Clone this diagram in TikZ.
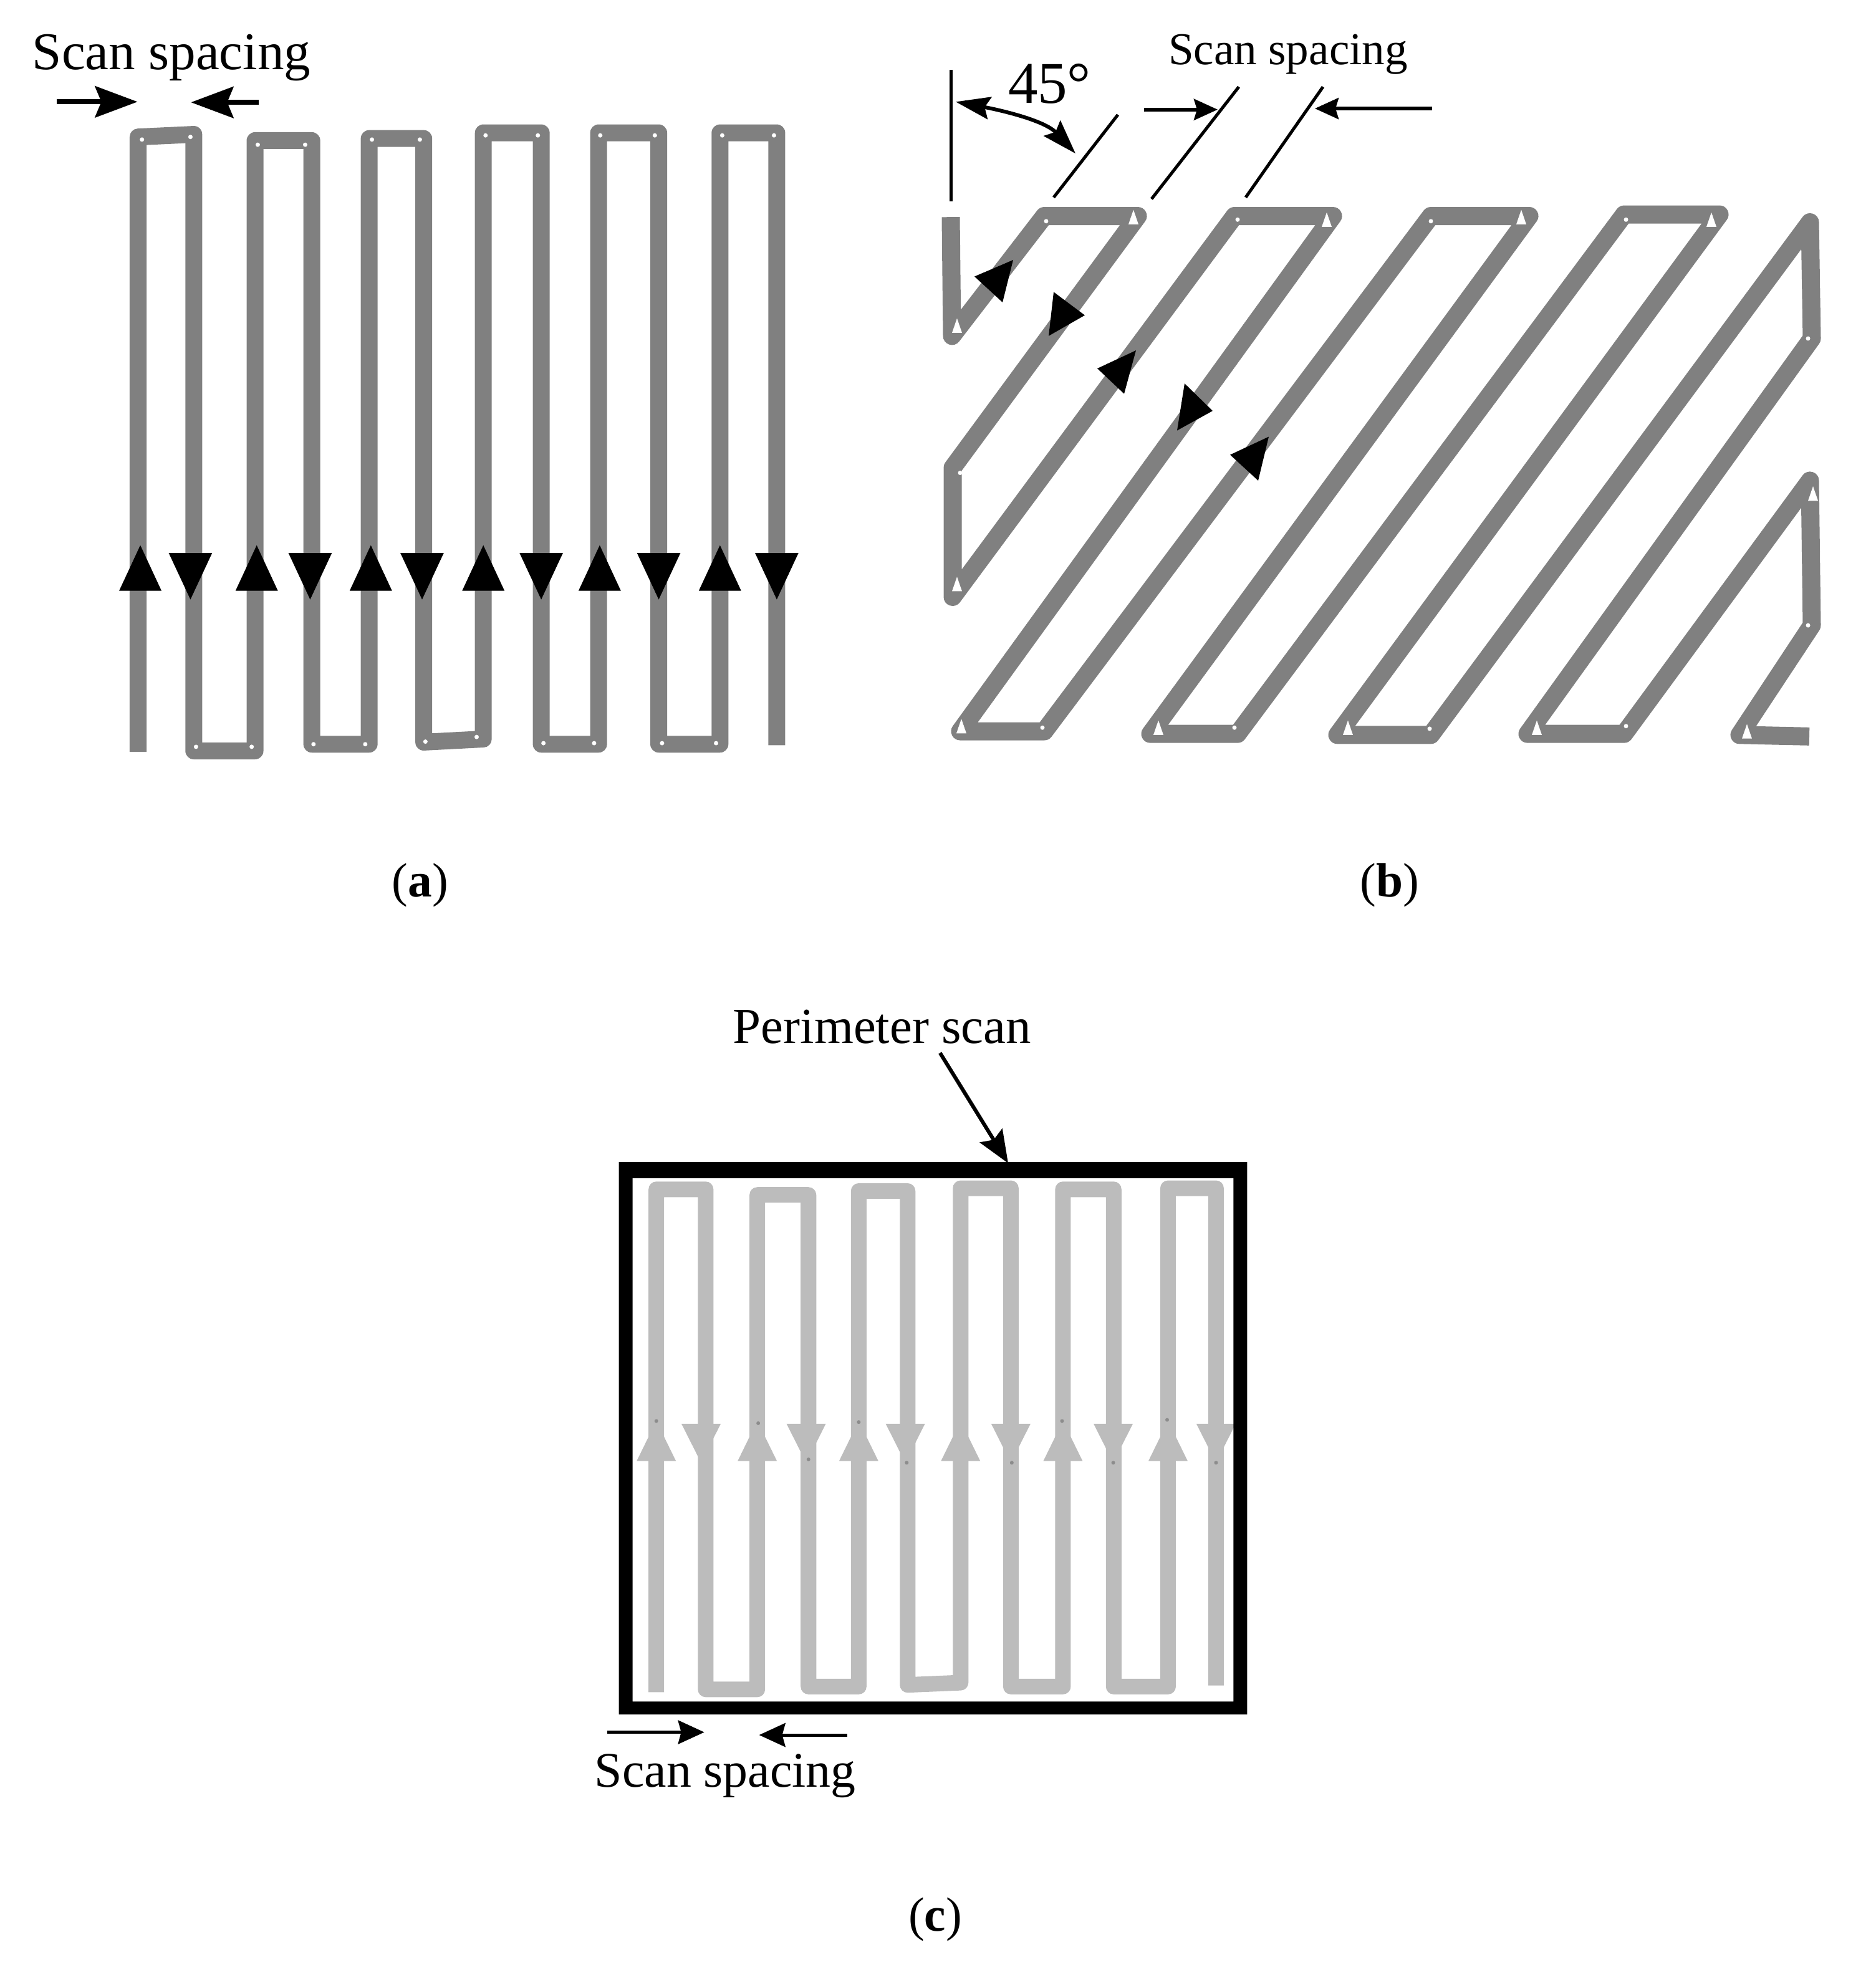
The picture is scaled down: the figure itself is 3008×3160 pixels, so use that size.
\documentclass[tikz,border=0pt]{standalone}
\usepackage{fontspec}
\setmainfont{Liberation Serif}
\usetikzlibrary{arrows.meta}
\definecolor{scanA}{HTML}{808080}
\definecolor{scanC}{HTML}{BCBCBC}
\definecolor{dotC}{HTML}{8C8C8C}
\newcommand{\lbl}[1]{\fontsize{#1}{#1}\selectfont}
\tikzset{
  track/.style={draw=scanA,line width=0.27cm,line join=round},
  trackB/.style={draw=scanA,line width=0.29cm,line join=round},
  trackC/.style={draw=scanC,line width=0.25cm,line join=round},
  tick/.style={draw=black,line width=0.05cm},
  dimA/.style={draw=black,line width=0.08cm,-{Stealth[length=0.68cm,width=0.5cm,inset=0.1cm]}},
  dimB/.style={draw=black,line width=0.055cm,-{Stealth[length=0.38cm,width=0.34cm,inset=0.05cm]}},
  dimC/.style={draw=black,line width=0.05cm,-{Stealth[length=0.42cm,width=0.38cm,inset=0.05cm]}},
  angleArc/.style={draw=black,line width=0.06cm,{Stealth[length=0.55cm,width=0.36cm,inset=0.08cm]}-{Stealth[length=0.55cm,width=0.36cm,inset=0.08cm]}},
  pointer/.style={draw=black,line width=0.06cm,-{Stealth[length=0.52cm,width=0.42cm,inset=0.08cm]}},
  txt/.style={anchor=base west,inner sep=0pt,outer sep=0pt,text=black},
  captxt/.style={anchor=center,inner sep=0pt,outer sep=0pt,text=black},
}
\begin{document}
\begin{tikzpicture}[x=0.01cm,y=-0.01cm]
\useasboundingbox (0,0) rectangle (3008,3160);

% ---------- panel (a)
\begin{scope}[x=0.00893cm,y=-0.00829cm]
\draw[track] (248,1455)--(248,265)--(348,260)--(348,1453)--(458,1453)--(458,272)--(560,272)--(560,1440)--(663,1440)--(663,268)--(761,268)--(761,1436)--(868,1430)--(868,257)--(972,257)--(972,1440)--(1075,1440)--(1075,257)--(1183,257)--(1183,1440)--(1293,1440)--(1293,257)--(1395,257)--(1395,1442);
\foreach \px/\py in {255/270,342/265,463/280,548/280,668/270,754/270,872/262,966/262,1078/262,1176/262,1297/262,1390/262,352/1445,452/1445,563/1440,656/1440,764/1435,856/1426,976/1438,1067/1438,1189/1438,1286/1438}
  \fill[white] (\px,\py) circle (0.035cm);
\foreach \tx in {252,461,666,868,1077,1293}
  \fill[black] ({\tx-38},1143)--(\tx,1055)--({\tx+38},1143)--cycle;
\foreach \tx in {342,557,758,972,1183,1395}
  \fill[black] ({\tx-39},1070)--({\tx+39},1070)--(\tx,1160)--cycle;
\coordinate (a1) at (102,197); \coordinate (a2) at (247,197);
\coordinate (a3) at (465,198); \coordinate (a4) at (343,198);
\draw[dimA] (a1)--(a2);
\draw[dimA] (a3)--(a4);
\node[txt] (labA) at (58,135) {\lbl{24.2}Scan spacing};
\end{scope}

% ---------- panel (b)
\begin{scope}[shift={(1450,0)},x=0.01cm,y=-0.00829cm]
\draw[trackB] (75,420)--(77,650)--(225,418)--(375,418)--(78,905)--(78,1155)--(530,418)--(688,418)--(90,1415)--(225,1415)--(845,418)--(1003,418)--(395,1420)--(535,1420)--(1155,415)--(1308,415)--(695,1422)--(845,1422)--(1453,430)--(1456,655)--(1000,1420)--(1155,1420)--(1453,930)--(1456,1210)--(1340,1422)--(1452,1425);
\foreach \px/\py in {228/428,535/425,845/428,1158/425,90/915,222/1408,530/1408,843/1410,1158/1405,1450/655,1450/1210}
  \fill[white] (\px,\py) circle (0.035cm);
\foreach \px/\py in {368/420,678/425,990/420,1295/425,85/630,85/1130,1458/955,92/1405,408/1408,712/1408,1015/1408,1352/1415}
  \fill[white] ({\px-8},{\py+14})--(\px,{\py-14})--({\px+8},{\py+14})--cycle;
\fill[black] (175,503)--(113,535)--(158,585)--cycle;
\fill[black] (240,565)--(290,610)--(232,650)--cycle;
\fill[black] (372,678)--(310,713)--(353,762)--cycle;
\fill[black] (450,742)--(495,795)--(438,833)--cycle;
\fill[black] (585,845)--(523,880)--(568,930)--cycle;
\coordinate (t1a) at (75,135);   \coordinate (t1b) at (75,390);
\coordinate (t2a) at (240,382);  \coordinate (t2b) at (343,222);
\coordinate (t3a) at (397,385);  \coordinate (t3b) at (537,168);
\coordinate (t4a) at (548,382);  \coordinate (t4b) at (672,168);
\draw[tick] (t1a)--(t1b);
\draw[tick] (t2a)--(t2b);
\draw[tick] (t3a)--(t3b);
\draw[tick] (t4a)--(t4b);
\coordinate (d1) at (385,212); \coordinate (d2) at (503,212);
\coordinate (d3) at (847,210); \coordinate (d4) at (659,210);
\draw[dimB] (d1)--(d2);
\draw[dimB] (d3)--(d4);
\coordinate (ar1) at (83,197); \coordinate (ar2) at (275,297);
\draw[angleArc] (ar1) .. controls (150,212) and (225,232) .. (ar2);
\node[txt] (labB) at (424,125) {\lbl{20.8}Scan spacing};
\node[txt] (ang) at (167,200) {\lbl{27}45°};
\end{scope}

% ---------- panel (c)
\begin{scope}[shift={(901,1580)},x=0.00733cm,y=-0.00893cm]
\draw[trackC] (207,1270)--(207,367)--(315,367)--(315,1265)--(428,1265)--(428,377)--(540,377)--(540,1260)--(650,1260)--(650,370)--(757,370)--(757,1257)--(873,1253)--(873,365)--(983,365)--(983,1260)--(1097,1260)--(1097,367)--(1208,367)--(1208,1260)--(1327,1260)--(1327,365)--(1432,365)--(1432,1258);
\foreach \tx in {207,428,650,873,1097,1327}
  \fill[scanC] ({\tx-43},855)--(\tx,783)--({\tx+43},855)--cycle;
\foreach \tx in {305,535,752,983,1207,1432}
  \fill[scanC] ({\tx-43},788)--({\tx+43},788)--(\tx,858)--cycle;
\foreach \px/\py in {207/783,430/787,650/785,1095/783,1325/781,540/852,755/858,985/858,1207/858,1432/858}
  \fill[dotC] (\px,\py) circle (0.03cm);
\fill[black,even odd rule] (125,318) rectangle (1500,1310) (155,347) rectangle (1470,1287);
\coordinate (p1) at (828,122); \coordinate (p2) at (977,320);
\draw[pointer] (p1)--(p2);
\coordinate (e1) at (100,1342); \coordinate (e2) at (312,1342);
\coordinate (e3) at (625,1347); \coordinate (e4) at (432,1347);
\draw[dimC] (e1)--(e2);
\draw[dimC] (e3)--(e4);
\node[txt] (labP) at (375,105) {\lbl{23}Perimeter scan};
\node[txt] (labC) at (72,1440) {\lbl{22.7}Scan spacing};
\end{scope}

% ---------- captions
\node[captxt] (capA) at (674,1420) {\lbl{22}(\textbf{a})};
\node[captxt] (capB) at (2229,1420) {\lbl{22}(\textbf{b})};
\node[captxt] (capC) at (1500,3079) {\lbl{22}(\textbf{c})};
\end{tikzpicture}
\end{document}
